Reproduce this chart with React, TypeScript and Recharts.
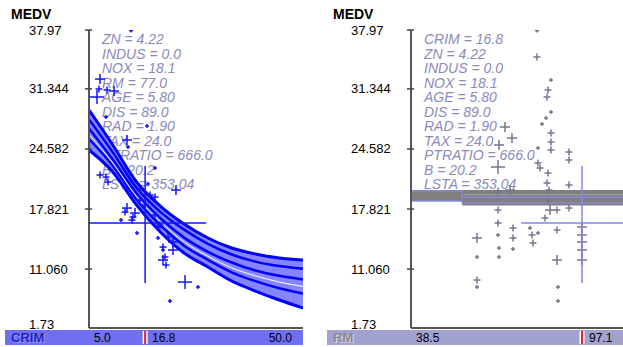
import React from 'react';
import { ComposedChart, Line, Area, Scatter, XAxis, YAxis } from 'recharts';

// MEDV axis
const Y_DOMAIN = [4.43, 37.97];
const Y_TICKS = [4.43, 11.06, 17.821, 24.582, 31.344, 37.97];
const Y_BOTTOM_LABEL = '1.73';

// left panel: CRIM
const CRIM_DOMAIN = [5, 50];
const CRIM_TICKS = [5, 16.8, 50];
const CRIM_CURRENT = 16.8;
const CRIM_GRID = [5, 10, 15, 20, 25, 30, 35, 40, 45, 50];
const FIT_TOP = [28.97, 25.03, 20.86, 18.16, 16.13, 14.56, 13.43, 12.76, 12.31, 12.08];
const FIT_2 = [27.9, 24.2, 20.2, 17.5, 15.5, 13.9, 12.7, 11.9, 11.4, 11.1];
const FIT_3 = [26.9, 23.4, 19.6, 16.8, 14.6, 13.0, 11.8, 10.9, 10.3, 9.9];
const FIT_4 = [25.7, 22.7, 18.9, 16.0, 13.7, 12.1, 10.7, 9.7, 8.9, 8.3];
const FIT_BOTTOM = [24.46, 21.99, 18.27, 15.23, 12.87, 11.29, 9.72, 8.59, 7.58, 6.68];
const FIT_GAP = [26.2, 23.0, 19.2, 16.4, 14.1, 12.5, 11.2, 10.3, 9.6, 9.1];

const CRIM_PTS = [13.83, 7.31, 7.1, 6.68, 8.78, 10.26, 8.57, 17.2, 12.99, 13.2, 7.31, 8.57, 18.88, 17.41, 23.29,
  12.99, 14.67, 14.04, 15.09, 19.51, 20.56, 22.66, 20.56, 21.19, 25.19, 27.92, 22.03, 21.61, 22.66, 15.72,
  16.77, 17.83, 18.88, 15.72, 19.93, 20.98, 11.73, 14.25, 12.57, 8.99, 18.88, 19.51, 20.56];
const MEDV_L = [37.9, 32.45, 31.33, 30.43, 31.22, 31.1, 28.18, 27.16, 25.59, 24.8, 21.65, 21.42, 22.44, 20.64, 19.96,
  17.93, 17.37, 16.58, 15.12, 14.56, 13.21, 13.21, 12.08, 11.52, 9.6, 9.04, 7.47, 14.67, 14.11, 18.83,
  18.27, 19.4, 17.15, 19.96, 16.02, 12.42, 16.58, 16.92, 17.48, 20.86, 19.17, 15.8, 13.54];
const W_L = [0, 2, 1, 3, 1, 2, 0, 0, 2, 0, 1, 1, 0, 0, 2, 2, 2, 1, 0, 0, 0, 2, 2, 1, 3, 0, 0, 1, 2, 1,
  1, 1, 1, 0, 1, 1, 0, 1, 1, 1, 1, 1, 1];

// right panel: RM
const RM_DOMAIN = [38.5, 111.15];
const RM_TICKS = [38.5, 97.1];
const RM_CURRENT = 97.1;
const RM_GRID = [38.5, 56, 111.15];
const FLAT_A = [19.75, 19.75, 19.75];
const FLAT_B = [19.35, 19.25, 19.25];
const FLAT_C = [18.95, 18.85, 18.85];
const FLAT_D = [null, 18.45, 18.45];
const FLAT_E = [19.85, 19.15, 19.15];
const FLAT_F = [18.7, 18.5, 18.5];

const RM_PTS = [81.68, 81.68, 86.48, 85.45, 85.11, 86.48, 84.76, 83.39, 70.71, 73.11, 68.66, 86.48, 86.48, 86.48,
  92.65, 92.65, 82.02, 82.02, 82.71, 68.32, 85.45, 85.11, 85.79, 85.45, 86.14, 84.42, 88.53, 88.53, 92.65,
  92.65, 68.32, 68.32, 68.32, 68.66, 68.66, 73.46, 73.46, 73.46, 79.28, 79.97, 80.31, 82.02, 61.12, 61.12,
  61.12, 61.12, 88.53, 88.88, 88.88, 97.1, 97.1, 97.1, 97.1, 97.1, 72.43, 68.32];
const MEDV_R = [37.9, 34.93, 32.34, 31.22, 30.43, 28.74, 28.06, 27.39, 27.05, 25.81, 25.03, 26.38, 25.36, 24.46,
  24.24, 23.34, 24.69, 23.0, 22.44, 22.55, 21.87, 20.75, 19.96, 18.84, 17.71, 16.81, 17.71, 15.46, 20.52,
  17.93, 17.71, 16.25, 14.9, 13.43, 12.42, 15.68, 14.56, 13.32, 15.68, 14.9, 14.0, 15.12, 14.56, 12.42,
  9.83, 9.04, 12.08, 9.04, 7.47, 15.8, 14.9, 14.11, 13.21, 12.08, 19.96, 19.73];
const W_R = [0, 1, 0, 1, 1, 0, 0, 0, 2, 2, 2, 1, 1, 1, 1, 1, 0, 1, 1, 3, 1, 1, 1, 1, 2, 1, 1, 1, 1,
  1, 1, 1, 0, 0, 0, 1, 1, 0, 0, 1, 1, 0, 2, 0, 1, 0, 2, 0, 0, 2, 2, 2, 2, 2, 2, 1];

const SELECTED_MEDV = 16.25;

const LEFT_TEXT = ['ZN = 4.22', 'INDUS = 0.0', 'NOX = 18.1', 'RM = 77.0', 'AGE = 5.80', 'DIS = 89.0',
  'RAD = 1.90', 'TAX = 24.0', 'PTRATIO = 666.0', 'B = 20.2', 'LSTA = 353.04'];
const RIGHT_TEXT = ['CRIM = 16.8', 'ZN = 4.22', 'INDUS = 0.0', 'NOX = 18.1', 'AGE = 5.80', 'DIS = 89.0',
  'RAD = 1.90', 'TAX = 24.0', 'PTRATIO = 666.0', 'B = 20.2', 'LSTA = 353.04'];

const W = 623;
const H = 347;
const PLOT_TOP = 30;
const PLOT_BOTTOM = 328;
const AXIS_W = 60;
const FONT = '"Liberation Sans", Arial, sans-serif';

const fitRows = CRIM_GRID.map((x, i) => ({
  x,
  a: FIT_TOP[i],
  b: FIT_2[i],
  c: FIT_3[i],
  d: FIT_4[i],
  e: FIT_BOTTOM[i],
  g: FIT_GAP[i],
  band: [FIT_BOTTOM[i], FIT_TOP[i]],
}));
const flatRows = RM_GRID.map((x, i) => ({
  x, a: FLAT_A[i], b: FLAT_B[i], c: FLAT_C[i], d: FLAT_D[i], e: FLAT_E[i], f: FLAT_F[i],
}));
const leftPts = CRIM_PTS.map((x, i) => ({ x, y: MEDV_L[i], w: W_L[i] }));
const rightPts = RM_PTS.map((x, i) => ({ x, y: MEDV_R[i], w: W_R[i] }));

const HALF = [2, 3.5, 5, 7];

const Cross = (props: any) => {
  const { cx, cy, payload, color } = props;
  if (cx == null || cy == null) return null;
  const h = HALF[payload.w] ?? 3;
  return (
    <g stroke={color} strokeWidth={1.5}>
      <line x1={cx - h} y1={cy} x2={cx + h} y2={cy} />
      <line x1={cx} y1={cy - h} x2={cx} y2={cy + h} />
    </g>
  );
};

const BigCross = (props: any) => {
  const { cx, cy, color, minX } = props;
  if (cx == null || cy == null) return null;
  return (
    <g stroke={color} strokeWidth={1.5}>
      <line x1={Math.max(cx - 61, minX)} y1={cy} x2={cx + 61} y2={cy} />
      <line x1={cx} y1={cy - 57} x2={cx} y2={cy + 60} />
    </g>
  );
};

const YTick = (props: any) => {
  const { y, payload, plotLeft } = props;
  const isBottom = payload.value === Y_DOMAIN[0];
  const label = isBottom ? Y_BOTTOM_LABEL : String(payload.value).replace(/^11\.06$/, '11.060');
  return (
    <g>
      {!isBottom && <line x1={plotLeft - 4} y1={y} x2={plotLeft + 3} y2={y} stroke="#444" strokeWidth={1.5} />}
      <text x={plotLeft - AXIS_W} y={isBottom ? y + 0.5 : y + 4.5} fontSize={13} fontFamily={FONT} fill="#000">
        {label}
      </text>
    </g>
  );
};

const XTick = (props: any) => {
  const { x, payload, index, current } = props;
  const v = payload.value;
  const label = v.toFixed(1);
  const ty = PLOT_BOTTOM + 14;
  if (v === current) {
    return (
      <g>
        <rect x={x - 2.5} y={PLOT_BOTTOM + 3} width={5} height={13} fill="#fff" />
        <rect x={x - 1} y={PLOT_BOTTOM + 3} width={2} height={13} fill="#e8202a" />
        <text x={x + 7} y={ty} fontSize={12} fontFamily={FONT} fill="#000">{label}</text>
      </g>
    );
  }
  if (index === 0) {
    return <text x={x + 5} y={ty} fontSize={12} fontFamily={FONT} fill="#000">{label}</text>;
  }
  return (
    <text x={x - 11} y={ty} fontSize={12} fontFamily={FONT} fill="#000" textAnchor="end">{label}</text>
  );
};

const TextList = ({ lines, left }: { lines: string[]; left: number }) => (
  <div style={{ position: 'absolute', left, top: 0 }}>
    {lines.map((t, i) => (
      <div
        key={t + i}
        style={{
          position: 'absolute',
          left: 0,
          top: 31 + i * 14.5,
          whiteSpace: 'nowrap',
          fontFamily: FONT,
          fontStyle: 'italic',
          fontSize: 14,
          lineHeight: '16px',
          color: '#8a8abc',
        }}
      >
        {t}
      </div>
    ))}
  </div>
);

const BottomBar = ({ left, width, bg, label, labelColor, shadow }: any) => (
  <div
    style={{
      position: 'absolute',
      left,
      top: PLOT_BOTTOM + 2,
      width,
      height: 15,
      background: bg,
    }}
  >
    <span
      style={{
        position: 'absolute',
        left: 6,
        top: 0,
        fontFamily: FONT,
        fontWeight: 'bold',
        fontSize: 13,
        lineHeight: '15px',
        color: labelColor,
        textShadow: shadow,
      }}
    >
      {label}
    </span>
  </div>
);

const MedvTitle = ({ left }: { left: number }) => (
  <div
    style={{
      position: 'absolute',
      left,
      top: 6,
      fontFamily: FONT,
      fontWeight: 'bold',
      fontSize: 14,
      lineHeight: '16px',
      color: '#000',
    }}
  >
    MEDV
  </div>
);

export default function App() {
  const leftPlotLeft = 89;
  const rightOffset = 322;
  const rightPlotLeft = 89;

  return (
    <div style={{ position: 'absolute', left: 0, top: 0, width: W, height: H, overflow: 'hidden', background: '#fff' }}>
      <MedvTitle left={11} />
      <MedvTitle left={333} />
      <TextList lines={LEFT_TEXT} left={102} />
      <TextList lines={RIGHT_TEXT} left={424} />
      <BottomBar left={5} width={298} bg="#6f6ff2" label="CRIM" labelColor="#2323c8" shadow="1px 1px 0 #9a9aff" />
      <BottomBar left={327} width={296} bg="#a2a2cf" label="RM" labelColor="#8c8c8c" shadow="1px 1px 0 #d8d8e8" />

      {/* left panel */}
      <div style={{ position: 'absolute', left: 0, top: 0 }}>
        <ComposedChart
          width={310}
          height={H}
          data={fitRows}
          margin={{ top: PLOT_TOP, right: 7, bottom: 0, left: leftPlotLeft - AXIS_W }}
        >
          <XAxis
            type="number"
            dataKey="x"
            domain={CRIM_DOMAIN}
            ticks={CRIM_TICKS}
            allowDataOverflow
            height={H - PLOT_BOTTOM}
            axisLine={{ stroke: '#555', strokeWidth: 2 }}
            tickLine={false}
            interval={0}
            tick={(p: any) => <XTick {...p} current={CRIM_CURRENT} />}
          />
          <YAxis
            type="number"
            domain={Y_DOMAIN}
            ticks={Y_TICKS}
            allowDataOverflow
            width={AXIS_W}
            axisLine={{ stroke: '#555', strokeWidth: 2 }}
            tickLine={false}
            interval={0}
            tick={(p: any) => <YTick {...p} plotLeft={leftPlotLeft} />}
          />
          <Area dataKey="band" type="monotone" stroke="none" fill="#8585ff" fillOpacity={1} isAnimationActive={false} />
          <Line dataKey="a" type="monotone" stroke="#0000ff" strokeWidth={3} dot={false} isAnimationActive={false} />
          <Line dataKey="b" type="monotone" stroke="#0000ff" strokeWidth={2.5} dot={false} isAnimationActive={false} />
          <Line dataKey="c" type="monotone" stroke="#0000ff" strokeWidth={2.5} dot={false} isAnimationActive={false} />
          <Line dataKey="d" type="monotone" stroke="#0000ff" strokeWidth={2.5} dot={false} isAnimationActive={false} />
          <Line dataKey="e" type="monotone" stroke="#0000ff" strokeWidth={3} dot={false} isAnimationActive={false} />
          <Line dataKey="g" type="monotone" stroke="#ffffff" strokeWidth={1} dot={false} isAnimationActive={false} />
          <Scatter
            data={leftPts}
            dataKey="y"
            isAnimationActive={false}
            shape={(p: any) => <Cross {...p} color="#1414ff" />}
          />
          <Scatter
            data={[{ x: CRIM_CURRENT, y: SELECTED_MEDV }]}
            dataKey="y"
            isAnimationActive={false}
            shape={(p: any) => <BigCross {...p} color="#1414ff" minX={leftPlotLeft} />}
          />
        </ComposedChart>
      </div>

      {/* right panel */}
      <div style={{ position: 'absolute', left: rightOffset, top: 0 }}>
        <ComposedChart
          width={W - rightOffset}
          height={H}
          data={flatRows}
          margin={{ top: PLOT_TOP, right: 0, bottom: 0, left: rightPlotLeft - AXIS_W }}
        >
          <XAxis
            type="number"
            dataKey="x"
            domain={RM_DOMAIN}
            ticks={RM_TICKS}
            allowDataOverflow
            height={H - PLOT_BOTTOM}
            axisLine={{ stroke: '#555', strokeWidth: 2 }}
            tickLine={false}
            interval={0}
            tick={(p: any) => <XTick {...p} current={RM_CURRENT} />}
          />
          <YAxis
            type="number"
            domain={Y_DOMAIN}
            ticks={Y_TICKS}
            allowDataOverflow
            width={AXIS_W}
            axisLine={{ stroke: '#555', strokeWidth: 2 }}
            tickLine={false}
            interval={0}
            tick={(p: any) => <YTick {...p} plotLeft={rightPlotLeft} />}
          />
          <Line dataKey="a" type="stepAfter" stroke="#808080" strokeWidth={4} dot={false} isAnimationActive={false} />
          <Line dataKey="b" type="stepAfter" stroke="#808080" strokeWidth={4} dot={false} isAnimationActive={false} />
          <Line dataKey="c" type="stepAfter" stroke="#808080" strokeWidth={4} dot={false} isAnimationActive={false} />
          <Line dataKey="d" type="stepAfter" stroke="#808080" strokeWidth={4} dot={false} isAnimationActive={false} />
          <Line dataKey="e" type="stepAfter" stroke="#8a8af5" strokeWidth={1.2} dot={false} isAnimationActive={false} />
          <Line dataKey="f" type="stepAfter" stroke="#8a8af5" strokeWidth={1.2} dot={false} isAnimationActive={false} />
          <Scatter
            data={rightPts}
            dataKey="y"
            isAnimationActive={false}
            shape={(p: any) => <Cross {...p} color="#76768f" />}
          />
          <Scatter
            data={[{ x: RM_CURRENT, y: SELECTED_MEDV }]}
            dataKey="y"
            isAnimationActive={false}
            shape={(p: any) => <BigCross {...p} color="#8484ec" minX={rightPlotLeft} />}
          />
        </ComposedChart>
      </div>
    </div>
  );
}
